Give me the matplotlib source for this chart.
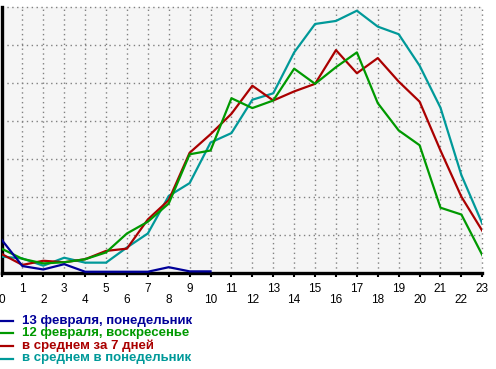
import matplotlib
matplotlib.use("Agg")
import matplotlib.pyplot as plt
from matplotlib.lines import Line2D
from matplotlib.ticker import FixedLocator

hours = list(range(24))
hours_feb13 = list(range(11))
feb13 = [0.87, 0.17, 0.08, 0.22, 0.02, 0.02, 0.02, 0.02, 0.14, 0.03, 0.03]
feb12 = [0.63, 0.36, 0.24, 0.27, 0.35, 0.53, 1.03, 1.34, 1.82, 3.12, 3.22, 4.60,
         4.34, 4.54, 5.38, 4.98, 5.42, 5.81, 4.47, 3.75, 3.36, 1.71, 1.53, 0.46]
avg7 = [0.49, 0.20, 0.31, 0.27, 0.35, 0.57, 0.63, 1.40, 1.91, 3.16, 3.65, 4.19,
        4.93, 4.54, 4.78, 4.98, 5.87, 5.26, 5.66, 5.04, 4.51, 3.22, 2.00, 1.10]
avg_mon = [0.42, 0.37, 0.18, 0.39, 0.26, 0.26, 0.66, 1.03, 2.02, 2.36, 3.43, 3.68,
           4.56, 4.73, 5.81, 6.56, 6.64, 6.91, 6.49, 6.29, 5.46, 4.35, 2.57, 1.29]
labels = ["13 февраля, понедельник", "12 февраля, воскресенье",
          "в среднем за 7 дней", "в среднем в понедельник"]
colors = ["#000099", "#009900", "#AA0000", "#009999"]

W, H = 496, 369
fig = plt.figure(figsize=(W / 100, H / 100), dpi=100)
plt.rcParams['font.family'] = ['Liberation Sans', 'DejaVu Sans']

x0, x1 = 1.5, 482.3
ytop, ybot = 7.3, 272.5
ax = fig.add_axes([x0 / W, 1 - ybot / H, (x1 - x0) / W, (ybot - ytop) / H])
ax.set_facecolor("#F5F5F5")
ax.set_xlim(0, 23)
ax.set_ylim(0, 7)

lw = 1.6
ax.plot(hours, avg_mon, color=colors[3], lw=lw, zorder=3)
ax.plot(hours, avg7, color=colors[2], lw=lw, zorder=4)
ax.plot(hours, feb12, color=colors[1], lw=lw, zorder=5)
ax.plot(hours_feb13, feb13, color=colors[0], lw=lw, zorder=6)

for s in ["top", "right"]:
    ax.spines[s].set_visible(False)
ax.spines["left"].set_linewidth(2.4)
ax.spines["bottom"].set_linewidth(2.4)
ax.spines["left"].set_color("black")
ax.spines["bottom"].set_color("black")

ax.set_yticks(range(1, 8))
ax.tick_params(axis="y", left=False, labelleft=False)
for yv in range(1, 8):
    ax.axhline(yv, color="#808080", lw=1.0, ls=(0, (1, 2.5)), zorder=1, clip_on=False)
for xv in range(1, 24):
    ax.axvline(xv, color="#808080", lw=1.0, ls=(0, (1, 2.5)), zorder=1, clip_on=False)

even = [h for h in hours if h % 2 == 0]
odd = [h for h in hours if h % 2 == 1]
ax.xaxis.set_major_locator(FixedLocator(even))
ax.xaxis.set_minor_locator(FixedLocator(odd))
ax.set_xticklabels([str(h) for h in even])
ax.set_xticklabels([str(h) for h in odd], minor=True)
ax.tick_params(axis="x", which="major", length=3, width=1.5, pad=12.5, labelsize=8.5)
ax.tick_params(axis="x", which="minor", length=3, width=1.5, pad=4.5, labelsize=8.5)

leg_y = [321, 333, 346, 358.5]
for lab, c, yy in zip(labels, colors, leg_y):
    fig.add_artist(Line2D([0, 13 / W], [1 - yy / H, 1 - yy / H], color=c, lw=1.6,
                          transform=fig.transFigure))
    fig.text(22 / W, 1 - yy / H, lab, color=c, fontsize=9.5, fontweight="bold",
             va="center", ha="left")

fig.savefig("out.png", dpi=100)
